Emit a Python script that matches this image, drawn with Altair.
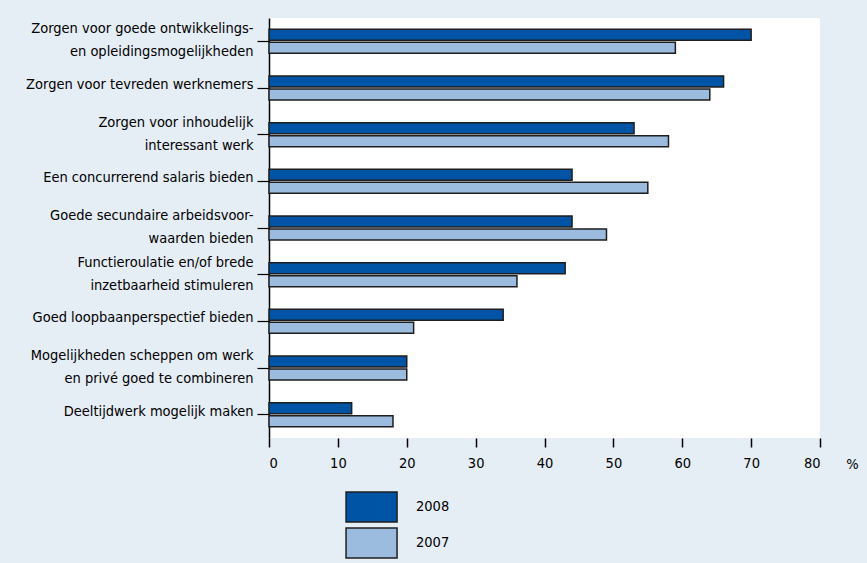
import altair as alt
import pandas as pd

categories = [
    "Zorgen voor goede ontwikkelings-\nen opleidingsmogelijkheden",
    "Zorgen voor tevreden werknemers",
    "Zorgen voor inhoudelijk\ninteressant werk",
    "Een concurrerend salaris bieden",
    "Goede secundaire arbeidsvoor-\nwaarden bieden",
    "Functieroulatie en/of brede\ninzetbaarheid stimuleren",
    "Goed loopbaanperspectief bieden",
    "Mogelijkheden scheppen om werk\nen privé goed te combineren",
    "Deeltijdwerk mogelijk maken",
]
v2008 = [70, 66, 53, 44, 44, 43, 34, 20, 12]
v2007 = [59, 64, 58, 55, 49, 36, 21, 20, 18]
years = ["2008", "2007"]
colors = ["#0054a6", "#9bbcde"]
x_ticks = [0, 10, 20, 30, 40, 50, 60, 70, 80]

rows = []
for c, a, b in zip(categories, v2008, v2007):
    rows.append({"cat": c, "year": "2008", "value": a})
    rows.append({"cat": c, "year": "2007", "value": b})
df = pd.DataFrame(rows)

FONT = "DejaVu Sans Condensed, Liberation Sans Narrow, Roboto, sans-serif"
FS = 14.5
BG = "#e5edf5"

chart = (
    alt.Chart(df)
    .mark_bar(stroke="#1e1e1e", strokeWidth=1.5)
    .encode(
        x=alt.X(
            "value:Q",
            scale=alt.Scale(domain=[0, 80], nice=False),
            axis=alt.Axis(
                values=x_ticks,
                domain=False,
                grid=False,
                tickSize=9,
                tickColor="#000000",
                tickWidth=1.5,
                labelFont=FONT,
                labelFontSize=FS,
                labelColor="#000000",
                labelPadding=9,
                title="%",
                titleFont=FONT,
                titleFontSize=FS,
                titleFontWeight="normal",
                titleColor="#000000",
                titleAnchor="start",
                titleAlign="center",
                titleBaseline="middle",
                titleX=583,
                titleY=26,
            ),
        ),
        y=alt.Y(
            "cat:N",
            sort=categories,
            scale=alt.Scale(paddingInner=0.486, paddingOuter=0.243),
            axis=alt.Axis(
                title=None,
                domain=True,
                domainColor="#000000",
                domainWidth=1.5,
                grid=False,
                tickSize=12,
                tickColor="#000000",
                tickWidth=1.2,
                labelFont=FONT,
                labelFontSize=FS,
                labelColor="#000000",
                labelPadding=4,
                labelLimit=300,
                labelLineHeight=23,
                labelOffset={
                    "condition": {"test": "indexof(datum.label, '\\n') >= 0", "value": -12},
                    "value": -3,
                },
                labelExpr="split(datum.label, '\\n')",
            ),
        ),
        yOffset=alt.YOffset(
            "year:N",
            sort=years,
            scale=alt.Scale(domain=years, paddingInner=0.15, paddingOuter=0),
        ),
        color=alt.Color(
            "year:N",
            scale=alt.Scale(domain=years, range=colors),
            legend=alt.Legend(
                title=None,
                orient="none",
                legendX=75,
                legendY=473,
                padding=0,
                symbolType="M-0.93,-1L2.47,-1L2.47,1L-0.93,1Z",
                symbolSize=900,
                symbolStrokeColor="#1e1e1e",
                symbolStrokeWidth=1.5,
                symbolOpacity=1,
                clipHeight=32,
                labelFont=FONT,
                labelFontSize=FS,
                labelColor="#000000",
                labelOffset=40,
                rowPadding=4,
            ),
        ),
    )
    .properties(
        width=551,
        height=420,
        background=BG,
        padding={"left": 269, "top": 18, "right": 47, "bottom": 125},
        autosize=alt.AutoSizeParams(type="none"),
    )
    .configure_view(fill="#ffffff", stroke=None)
)

chart.save("out.html", embed_options={"renderer": "svg", "actions": False})
